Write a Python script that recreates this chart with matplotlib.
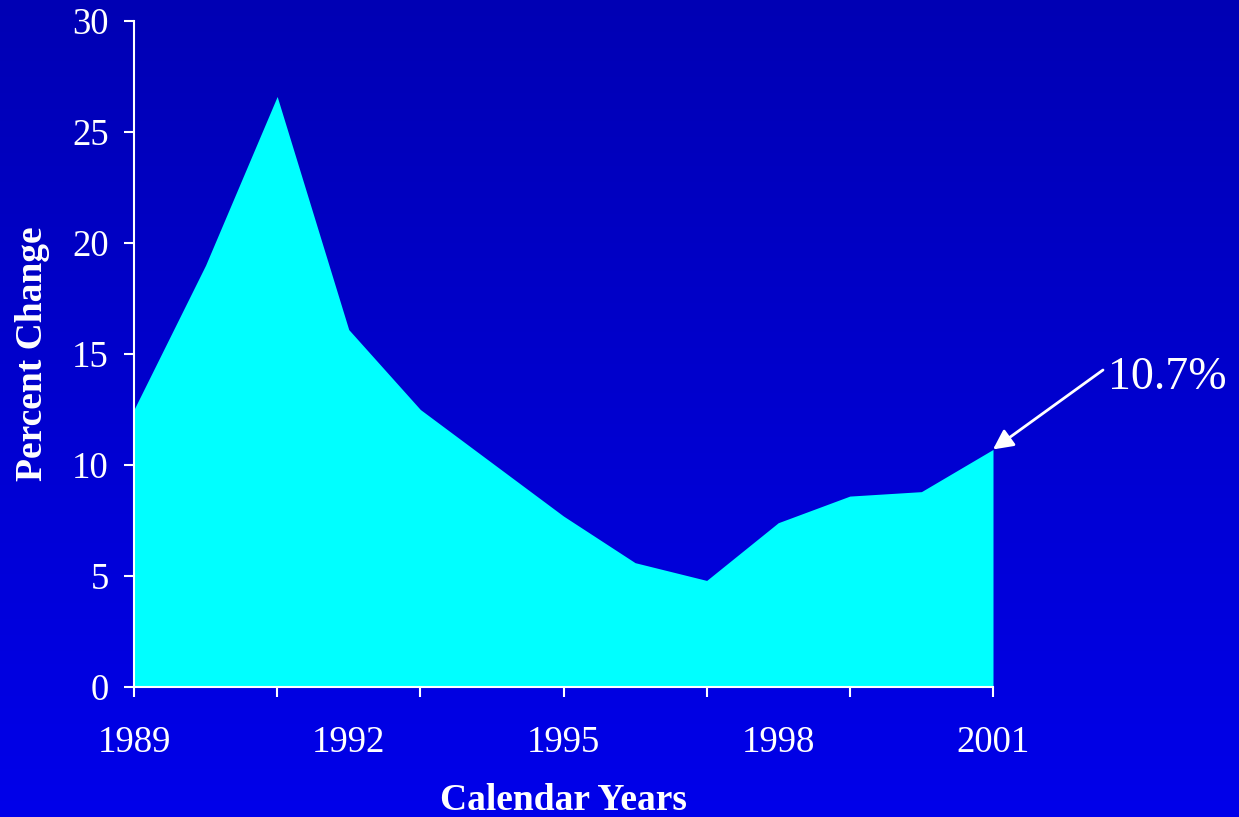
import numpy as np
import matplotlib
matplotlib.use("Agg")
import matplotlib.pyplot as plt

years = [1989, 1990, 1991, 1992, 1993, 1994, 1995, 1996, 1997, 1998, 1999, 2000, 2001]
pct_change = [12.5, 19.0, 26.6, 16.1, 12.5, 10.1, 7.7, 5.6, 4.8, 7.4, 8.6, 8.8, 10.7]
label_years = [1989, 1992, 1995, 1998, 2001]
tick_years = [1989, 1991, 1993, 1995, 1997, 1999, 2001]
y_ticks = [0, 5, 10, 15, 20, 25, 30]
annot_text = "10.7%"

plt.rcParams['font.family'] = ['Liberation Serif', 'DejaVu Serif']

fig = plt.figure(figsize=(12.39, 8.17), dpi=100)

# gradient background
bg = fig.add_axes([0, 0, 1, 1], zorder=0)
grad = np.linspace(0, 1, 256).reshape(-1, 1)
top = np.array([0, 0, 180]) / 255.0
bot = np.array([0, 0, 234]) / 255.0
img = top[None, None, :] * (1 - grad[:, :, None]) + bot[None, None, :] * grad[:, :, None]
bg.imshow(img, aspect='auto', extent=[0, 1, 0, 1], origin='upper')
bg.axis('off')

ax = fig.add_axes([134/1239, 1 - 687/817, (993-134)/1239, (687-21)/817], zorder=1)
ax.patch.set_alpha(0)

ax.fill_between(years, pct_change, 0, color='#00FFFF', linewidth=0)

ax.set_xlim(1989, 2001)
ax.set_ylim(0, 30)

for s in ['top', 'right']:
    ax.spines[s].set_visible(False)
for s in ['left', 'bottom']:
    ax.spines[s].set_color('white')
    ax.spines[s].set_linewidth(1.5)

ax.set_yticks(y_ticks)
ax.set_yticklabels([str(v) for v in y_ticks])
ax.tick_params(axis='y', colors='white', labelsize=26.5, length=7.2, width=1.5, pad=11)

ax.xaxis.remove_overlapping_locs = False
ax.set_xticks(label_years)
ax.set_xticklabels([str(v) for v in label_years])
ax.set_xticks(tick_years, minor=True)
ax.tick_params(axis='x', which='major', colors='white', labelsize=26.5, length=0, pad=28)
ax.tick_params(axis='x', which='minor', colors='white', length=7.2, width=1.5)

ax.set_xlabel("Calendar Years", fontsize=27, fontweight='bold', color='white', labelpad=16)
ax.set_ylabel("Percent Change", fontsize=27, fontweight='bold', color='white', labelpad=16)

# label text and arrow
fig.text(1108/1239, 1 - 378/817, annot_text, fontsize=33, color='white',
         ha='left', va='center')
ax.annotate("", xy=(years[-1], pct_change[-1]), xycoords='data',
            xytext=(1103/1239, 1 - 370/817), textcoords='figure fraction',
            arrowprops=dict(arrowstyle='-|>', color='white', lw=2, mutation_scale=30,
                            shrinkA=0, shrinkB=0),
            annotation_clip=False)

fig.savefig("out.png", dpi=100)
